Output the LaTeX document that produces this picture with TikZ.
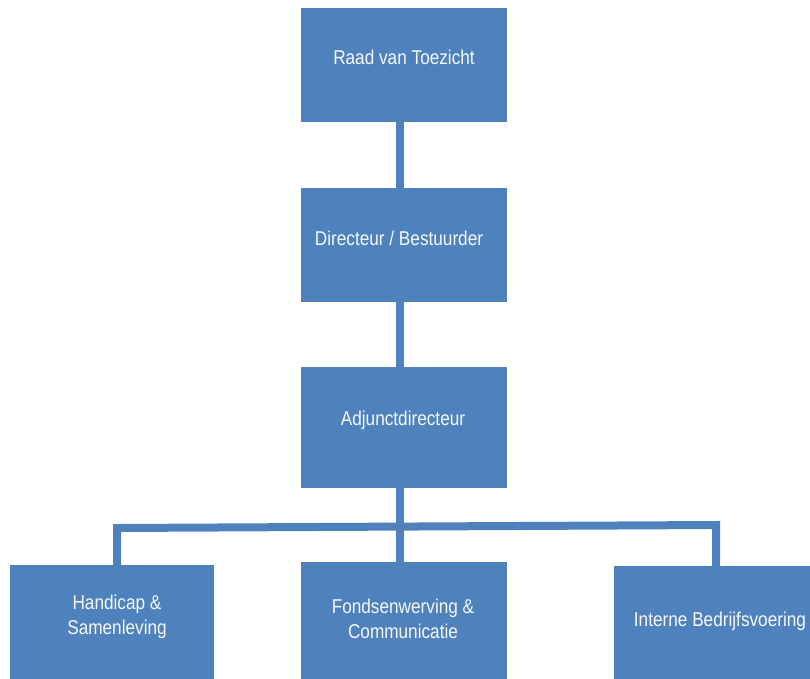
\documentclass[tikz,border=0pt]{standalone}
\usepackage{fontspec}
\setmainfont{Liberation Sans}[FakeStretch=0.86]
\usetikzlibrary{calc}
\definecolor{boxblue}{HTML}{4F81BD}
\definecolor{txtcol}{HTML}{F4F8FD}
\tikzset{
  box/.style={fill=boxblue, draw=none, inner sep=0pt, anchor=north west},
  lbl/.style={text=txtcol, font=\fontsize{20}{25}\selectfont, align=center},
  conn/.style={draw=boxblue, line width=8pt, line join=miter}
}
\begin{document}
\begin{tikzpicture}[x=1pt,y=-1pt]
\useasboundingbox (0,0) rectangle (810,679);
\fill[white] (0,0) rectangle (810,679);
% boxes
\node[box, minimum width=206pt, minimum height=114pt] (rvt) at (301,8) {};
\node[box, minimum width=206pt, minimum height=114pt] (dir) at (301,188) {};
\node[box, minimum width=206pt, minimum height=121pt] (adj) at (301,367) {};
\node[box, minimum width=204pt, minimum height=130pt] (hs) at (10,565) {};
\node[box, minimum width=206pt, minimum height=130pt] (fc) at (301,562) {};
\node[box, minimum width=220pt, minimum height=130pt] (ib) at (614,566) {};
% labels
\node[lbl] (trvt) at (404,57) {Raad van Toezicht};
\node[lbl] (tdir) at (399,238) {Directeur / Bestuurder};
\node[lbl] (tadj) at (403,420) {Adjunctdirecteur};
\node[lbl] (ths) at (117,617) {Handicap \&\\Samenleving};
\node[lbl] (tfc) at (403,619) {Fondsenwerving \&\\Communicatie};
\node[lbl] (tib) at (720,621) {Interne Bedrijfsvoering};
% connectors
\coordinate (cx) at (400,0);
\coordinate (jl) at (117,528);
\coordinate (jr) at (716,525);
\draw[conn] (rvt.south -| cx) -- (dir.north -| cx);
\draw[conn] (dir.south -| cx) -- (adj.north -| cx);
\draw[conn] (adj.south -| cx) -- (fc.north -| cx);
\draw[conn] (hs.north -| jl) -- (jl) -- (jr) -- (ib.north -| jr);
\end{tikzpicture}
\end{document}
